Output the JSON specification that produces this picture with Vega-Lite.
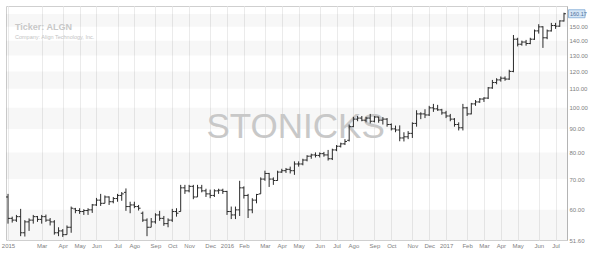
{
  "$schema": "https://vega.github.io/schema/vega-lite/v6.json",
  "width": 561,
  "height": 234,
  "autosize": "none",
  "padding": {"left": 6, "top": 6, "right": 22, "bottom": 22},
  "background": "white",
  "config": {
    "view": {"stroke": "#cfcfcf", "strokeWidth": 1},
    "font": "Liberation Sans",
    "axis": {"labelOverlap": false, "labelFlush": false}
  },
  "title": {
    "text": "Ticker: ALGN",
    "subtitle": "Company: Align Technology, Inc.",
    "anchor": "start",
    "frame": "group",
    "offset": -34,
    "dx": 9,
    "font": "Liberation Sans",
    "fontSize": 9,
    "fontWeight": "bold",
    "color": "#c8c8c8",
    "subtitleFont": "Liberation Sans",
    "subtitleFontSize": 5.5,
    "subtitleColor": "#c4c4c4",
    "subtitlePadding": 3
  },
  "datasets": {
    "bands": [
      {"lo": 51.6, "hi": 60}, {"lo": 70, "hi": 80}, {"lo": 90, "hi": 100},
      {"lo": 110, "hi": 120}, {"lo": 130, "hi": 140}, {"lo": 150, "hi": 160}
    ],
    "bars": [
      {"d":"2015-01-05","o":64,"h":65,"l":56,"c":57.5},
      {"d":"2015-01-12","o":57.5,"h":58,"l":56.3,"c":57},
      {"d":"2015-01-19","o":57,"h":58.5,"l":56.5,"c":58},
      {"d":"2015-01-26","o":58,"h":60.3,"l":52.6,"c":53.5},
      {"d":"2015-02-02","o":53.5,"h":57,"l":52.5,"c":56.5},
      {"d":"2015-02-09","o":56.5,"h":57.5,"l":54,"c":57},
      {"d":"2015-02-16","o":57,"h":58.5,"l":56,"c":58},
      {"d":"2015-02-23","o":58,"h":58.2,"l":56.5,"c":57.2},
      {"d":"2015-03-02","o":57.2,"h":58.5,"l":56,"c":58},
      {"d":"2015-03-09","o":58,"h":58.6,"l":56.5,"c":57},
      {"d":"2015-03-16","o":57,"h":57.6,"l":55.5,"c":56.5},
      {"d":"2015-03-23","o":56.5,"h":57,"l":53,"c":53.5},
      {"d":"2015-03-30","o":53.5,"h":55,"l":52.6,"c":54},
      {"d":"2015-04-06","o":54,"h":54.5,"l":52.4,"c":53},
      {"d":"2015-04-13","o":53,"h":55.5,"l":53,"c":55},
      {"d":"2015-04-20","o":55,"h":61,"l":53.5,"c":60.5},
      {"d":"2015-04-27","o":60.3,"h":60.6,"l":59,"c":59.8},
      {"d":"2015-05-04","o":59.8,"h":60.5,"l":58.8,"c":59.5},
      {"d":"2015-05-11","o":59.5,"h":60.2,"l":58.5,"c":59.8},
      {"d":"2015-05-18","o":59.8,"h":60.5,"l":58.5,"c":60},
      {"d":"2015-05-25","o":60,"h":61.8,"l":59.1,"c":61.5},
      {"d":"2015-06-01","o":61.5,"h":63.7,"l":61.2,"c":63},
      {"d":"2015-06-08","o":63,"h":65,"l":61.2,"c":62},
      {"d":"2015-06-15","o":62,"h":64.5,"l":62,"c":64},
      {"d":"2015-06-22","o":64,"h":64.2,"l":61.5,"c":62.5},
      {"d":"2015-06-29","o":62.5,"h":64,"l":62,"c":63.5},
      {"d":"2015-07-06","o":63.5,"h":65,"l":62.5,"c":64.5},
      {"d":"2015-07-13","o":64.5,"h":65.6,"l":62.8,"c":65},
      {"d":"2015-07-20","o":65.5,"h":66.8,"l":59.7,"c":61},
      {"d":"2015-07-27","o":61,"h":62.5,"l":59,"c":61.5},
      {"d":"2015-08-03","o":61.5,"h":62.5,"l":60.5,"c":61},
      {"d":"2015-08-10","o":61,"h":61.5,"l":59.8,"c":60.5},
      {"d":"2015-08-17","o":59,"h":59.5,"l":56.5,"c":57},
      {"d":"2015-08-24","o":57,"h":57.5,"l":52.6,"c":55},
      {"d":"2015-08-31","o":55,"h":57.6,"l":55,"c":56.5},
      {"d":"2015-09-07","o":56.5,"h":59,"l":56,"c":58.5},
      {"d":"2015-09-14","o":58.5,"h":59.7,"l":56.8,"c":57.5},
      {"d":"2015-09-21","o":57.5,"h":58.2,"l":55.4,"c":56},
      {"d":"2015-09-28","o":56,"h":57.5,"l":55,"c":57},
      {"d":"2015-10-05","o":57,"h":60.3,"l":56.5,"c":59.5},
      {"d":"2015-10-12","o":59.5,"h":60.5,"l":58,"c":59},
      {"d":"2015-10-19","o":59.5,"h":68,"l":59.5,"c":67},
      {"d":"2015-10-26","o":67,"h":68,"l":65,"c":66},
      {"d":"2015-11-02","o":66,"h":68,"l":65.5,"c":67.5},
      {"d":"2015-11-09","o":67.5,"h":68,"l":63.3,"c":64},
      {"d":"2015-11-16","o":64,"h":68,"l":64,"c":67},
      {"d":"2015-11-23","o":67,"h":68,"l":65.5,"c":66},
      {"d":"2015-11-30","o":66,"h":66.7,"l":64,"c":65},
      {"d":"2015-12-07","o":65,"h":66.4,"l":63.6,"c":64.5},
      {"d":"2015-12-14","o":64.5,"h":66.5,"l":64,"c":66},
      {"d":"2015-12-21","o":66,"h":66.7,"l":65,"c":66.2},
      {"d":"2015-12-28","o":66.2,"h":66.7,"l":65,"c":65.8},
      {"d":"2016-01-04","o":65.8,"h":66,"l":58.5,"c":59.5},
      {"d":"2016-01-11","o":59.5,"h":61,"l":57.3,"c":58.5},
      {"d":"2016-01-18","o":58.5,"h":61,"l":57.3,"c":60},
      {"d":"2016-01-25","o":60,"h":69.4,"l":58.2,"c":67},
      {"d":"2016-02-01","o":67,"h":67.5,"l":63.5,"c":64.5},
      {"d":"2016-02-08","o":64.5,"h":65,"l":57.6,"c":60},
      {"d":"2016-02-15","o":60,"h":63.6,"l":59,"c":63},
      {"d":"2016-02-22","o":63,"h":65,"l":62,"c":64.8},
      {"d":"2016-02-29","o":65,"h":70.6,"l":65,"c":70},
      {"d":"2016-03-07","o":70,"h":73,"l":69.4,"c":72},
      {"d":"2016-03-14","o":72,"h":72.2,"l":67.3,"c":70},
      {"d":"2016-03-21","o":70,"h":70.6,"l":68,"c":69.5},
      {"d":"2016-03-28","o":69.5,"h":73,"l":69.4,"c":72.5},
      {"d":"2016-04-04","o":72.5,"h":73.7,"l":72.2,"c":73},
      {"d":"2016-04-11","o":73,"h":74,"l":72.2,"c":73.5},
      {"d":"2016-04-18","o":73.5,"h":74.5,"l":72,"c":73},
      {"d":"2016-04-25","o":73,"h":76.5,"l":71.5,"c":75.5},
      {"d":"2016-05-02","o":75.5,"h":76.5,"l":74.5,"c":75.5},
      {"d":"2016-05-09","o":75.5,"h":77.5,"l":75,"c":77},
      {"d":"2016-05-16","o":77,"h":78.9,"l":76.5,"c":78.5},
      {"d":"2016-05-23","o":78.5,"h":79.5,"l":77.5,"c":79},
      {"d":"2016-05-30","o":79,"h":80,"l":78,"c":78.8},
      {"d":"2016-06-06","o":78.8,"h":80,"l":78,"c":79.5},
      {"d":"2016-06-13","o":79.5,"h":80.2,"l":78.3,"c":79},
      {"d":"2016-06-20","o":79,"h":81,"l":76.8,"c":77.5},
      {"d":"2016-06-27","o":77.5,"h":81.5,"l":77,"c":81},
      {"d":"2016-07-04","o":81,"h":83,"l":80.5,"c":82.5},
      {"d":"2016-07-11","o":82.5,"h":84,"l":82,"c":83.5},
      {"d":"2016-07-18","o":83.5,"h":85.5,"l":83,"c":84.5},
      {"d":"2016-07-25","o":85,"h":92,"l":84.5,"c":91},
      {"d":"2016-08-01","o":91,"h":95.6,"l":90.8,"c":94.5},
      {"d":"2016-08-08","o":94.5,"h":96,"l":93.5,"c":95},
      {"d":"2016-08-15","o":95,"h":96,"l":93.5,"c":94},
      {"d":"2016-08-22","o":94,"h":95.6,"l":93,"c":95},
      {"d":"2016-08-29","o":95,"h":97,"l":92.5,"c":93.5},
      {"d":"2016-09-05","o":93.5,"h":96,"l":93,"c":95.5},
      {"d":"2016-09-12","o":95.5,"h":95.6,"l":92.8,"c":94},
      {"d":"2016-09-19","o":94,"h":95.5,"l":92,"c":94.5},
      {"d":"2016-09-26","o":94.5,"h":95,"l":91,"c":92},
      {"d":"2016-10-03","o":92,"h":92.5,"l":89.3,"c":90},
      {"d":"2016-10-10","o":90,"h":91.5,"l":88.5,"c":89.5},
      {"d":"2016-10-17","o":89.5,"h":91.6,"l":84.6,"c":86},
      {"d":"2016-10-24","o":86,"h":88.5,"l":84.5,"c":86.5},
      {"d":"2016-10-31","o":86.5,"h":89,"l":85.5,"c":88},
      {"d":"2016-11-07","o":88,"h":93,"l":86,"c":92.5},
      {"d":"2016-11-14","o":92.5,"h":98.8,"l":91,"c":97},
      {"d":"2016-11-21","o":97,"h":97.8,"l":94.5,"c":97},
      {"d":"2016-11-28","o":97,"h":99.3,"l":95,"c":96.5},
      {"d":"2016-12-05","o":96.5,"h":101,"l":96,"c":100},
      {"d":"2016-12-12","o":100,"h":102,"l":98,"c":99.5},
      {"d":"2016-12-19","o":99.5,"h":101.5,"l":98.5,"c":99},
      {"d":"2016-12-26","o":99,"h":99.5,"l":96.6,"c":97.5},
      {"d":"2017-01-02","o":97.5,"h":98.5,"l":95,"c":96},
      {"d":"2017-01-09","o":96,"h":97,"l":93.5,"c":94.5},
      {"d":"2017-01-16","o":94.5,"h":95,"l":91,"c":92},
      {"d":"2017-01-23","o":92,"h":93,"l":89.3,"c":90.5},
      {"d":"2017-01-30","o":90.5,"h":102,"l":89.3,"c":100},
      {"d":"2017-02-06","o":100,"h":100.5,"l":96,"c":97},
      {"d":"2017-02-13","o":97,"h":102.5,"l":96.8,"c":102},
      {"d":"2017-02-20","o":102,"h":104,"l":101,"c":103},
      {"d":"2017-02-27","o":103,"h":105,"l":102.5,"c":104.5},
      {"d":"2017-03-06","o":104.5,"h":105.5,"l":103,"c":105},
      {"d":"2017-03-13","o":105,"h":111,"l":104.5,"c":110.5},
      {"d":"2017-03-20","o":110.5,"h":115,"l":110,"c":113.5},
      {"d":"2017-03-27","o":113.5,"h":116,"l":112.5,"c":115},
      {"d":"2017-04-03","o":115,"h":117,"l":114,"c":116},
      {"d":"2017-04-10","o":116,"h":117,"l":114.5,"c":115.5},
      {"d":"2017-04-17","o":115.5,"h":121,"l":115,"c":120},
      {"d":"2017-04-24","o":120,"h":144,"l":119.5,"c":141},
      {"d":"2017-05-01","o":141,"h":142,"l":136,"c":137.5},
      {"d":"2017-05-08","o":137.5,"h":140,"l":136.5,"c":139},
      {"d":"2017-05-15","o":139,"h":140.5,"l":136.5,"c":138},
      {"d":"2017-05-22","o":138,"h":142,"l":137.5,"c":141},
      {"d":"2017-05-29","o":141,"h":148,"l":140.5,"c":147},
      {"d":"2017-06-05","o":147,"h":152,"l":145,"c":150},
      {"d":"2017-06-12","o":150,"h":150.5,"l":135,"c":142},
      {"d":"2017-06-19","o":142,"h":148,"l":141,"c":147},
      {"d":"2017-06-26","o":147,"h":153,"l":146.5,"c":151},
      {"d":"2017-07-03","o":151,"h":153,"l":148.5,"c":150.5},
      {"d":"2017-07-10","o":150.5,"h":155,"l":150,"c":154.5},
      {"d":"2017-07-17","o":154.5,"h":161,"l":154,"c":160.17}
    ]
  },
  "layer": [
    {
      "data": {"name": "bands"},
      "mark": {"type": "rect", "color": "#000000", "opacity": 0.03},
      "encoding": {
        "y": {
          "field": "lo", "type": "quantitative",
          "scale": {"type": "log", "domain": [51.6, 166.5], "nice": false, "zero": false},
          "axis": {
            "title": null,
            "orient": "right",
            "values": [51.6, 60, 70, 80, 90, 100, 110, 120, 130, 140, 150],
            "tickCount": 100,
            "format": ".2f",
            "labelFont": "Liberation Sans",
            "labelFontSize": 6,
            "labelColor": "#808080",
            "labelPadding": 2,
            "labelOverlap": false,
            "labelFlush": false,
            "ticks": false,
            "domain": true,
            "domainColor": "#b4b4b4",
            "grid": false
          }
        },
        "y2": {"field": "hi"}
      }
    },
    {
      "data": {"name": "bars"},
      "transform": [{"filter": "datum.c == 160.17"}],
      "mark": {"type": "text", "text": "STONICKS", "fontSize": 35, "color": "#c8c8c8", "align": "center", "baseline": "middle", "font": "Liberation Sans"},
      "encoding": {
        "x": {
          "datum": {"year": 2016, "month": 4, "date": 27, "utc": true}, "type": "temporal",
          "scale": {"type": "utc", "domain": [{"year": 2015, "month": 1, "date": 1, "hours": 16, "utc": true}, {"year": 2017, "month": 7, "date": 22, "utc": true}], "nice": false},
          "axis": {
            "title": null,
            "orient": "bottom",
            "tickCount": 100,
            "values": [
              {"year": 2015, "month": 1, "date": 5, "utc": true},
              {"year": 2015, "month": 3, "date": 2, "utc": true},
              {"year": 2015, "month": 4, "date": 6, "utc": true},
              {"year": 2015, "month": 5, "date": 4, "utc": true},
              {"year": 2015, "month": 6, "date": 1, "utc": true},
              {"year": 2015, "month": 7, "date": 6, "utc": true},
              {"year": 2015, "month": 8, "date": 3, "utc": true},
              {"year": 2015, "month": 9, "date": 7, "utc": true},
              {"year": 2015, "month": 10, "date": 5, "utc": true},
              {"year": 2015, "month": 11, "date": 2, "utc": true},
              {"year": 2015, "month": 12, "date": 7, "utc": true},
              {"year": 2016, "month": 1, "date": 4, "utc": true},
              {"year": 2016, "month": 2, "date": 1, "utc": true},
              {"year": 2016, "month": 3, "date": 7, "utc": true},
              {"year": 2016, "month": 4, "date": 4, "utc": true},
              {"year": 2016, "month": 5, "date": 2, "utc": true},
              {"year": 2016, "month": 6, "date": 6, "utc": true},
              {"year": 2016, "month": 7, "date": 4, "utc": true},
              {"year": 2016, "month": 8, "date": 1, "utc": true},
              {"year": 2016, "month": 9, "date": 5, "utc": true},
              {"year": 2016, "month": 10, "date": 3, "utc": true},
              {"year": 2016, "month": 11, "date": 7, "utc": true},
              {"year": 2016, "month": 12, "date": 5, "utc": true},
              {"year": 2017, "month": 1, "date": 2, "utc": true},
              {"year": 2017, "month": 2, "date": 6, "utc": true},
              {"year": 2017, "month": 3, "date": 6, "utc": true},
              {"year": 2017, "month": 4, "date": 3, "utc": true},
              {"year": 2017, "month": 5, "date": 1, "utc": true},
              {"year": 2017, "month": 6, "date": 5, "utc": true},
              {"year": 2017, "month": 7, "date": 3, "utc": true}
            ],
            "labelExpr": "utcFormat(datum.value,'%m')=='01' ? utcFormat(datum.value,'%Y') : (utcFormat(datum.value,'%m')=='08' ? 'Ago' : utcFormat(datum.value,'%b'))",
            "labelFont": "Liberation Sans",
            "labelFontSize": 6,
            "labelColor": "#808080",
            "labelPadding": 2,
            "labelOverlap": false,
            "labelFlush": false,
            "ticks": false,
            "domain": false,
            "grid": true,
            "gridColor": "#ebebeb",
            "gridWidth": 1
          }
        },
        "y": {"datum": 91, "type": "quantitative"}
      }
    },
    {
      "data": {"name": "bars"},
      "mark": {"type": "rule", "color": "#2a2a2a", "strokeWidth": 1},
      "encoding": {
        "x": {"field": "d", "type": "temporal"},
        "y": {"field": "l", "type": "quantitative"},
        "y2": {"field": "h"}
      }
    },
    {
      "data": {"name": "bars"},
      "mark": {"type": "rule", "color": "#2a2a2a", "strokeWidth": 1, "xOffset": -2, "x2Offset": 0},
      "encoding": {
        "x": {"field": "d", "type": "temporal"},
        "x2": {"field": "d"},
        "y": {"field": "o", "type": "quantitative"}
      }
    },
    {
      "data": {"name": "bars"},
      "mark": {"type": "rule", "color": "#2a2a2a", "strokeWidth": 1, "xOffset": 0, "x2Offset": 2},
      "encoding": {
        "x": {"field": "d", "type": "temporal"},
        "x2": {"field": "d"},
        "y": {"field": "c", "type": "quantitative"}
      }
    },
    {
      "data": {"name": "bars"},
      "transform": [{"filter": "datum.c == 160.17"}],
      "mark": {"type": "rect", "fill": "#d6e6f5", "stroke": "#7fa9d6", "strokeWidth": 0.8, "xOffset": 1.5, "x2Offset": 18, "yOffset": -4, "y2Offset": 4, "clip": false},
      "encoding": {
        "x": {"datum": {"year": 2017, "month": 7, "date": 22, "utc": true}, "type": "temporal"},
        "x2": {"datum": {"year": 2017, "month": 7, "date": 22, "utc": true}},
        "y": {"field": "c", "type": "quantitative"},
        "y2": {"field": "c"}
      }
    },
    {
      "data": {"name": "bars"},
      "transform": [{"filter": "datum.c == 160.17"}],
      "mark": {"type": "text", "align": "left", "baseline": "middle", "dx": 3, "fontSize": 5.5, "color": "#4b6f9c", "font": "Liberation Sans"},
      "encoding": {
        "x": {"datum": {"year": 2017, "month": 7, "date": 22, "utc": true}, "type": "temporal"},
        "y": {"field": "c", "type": "quantitative"},
        "text": {"field": "c", "type": "quantitative", "format": ".2f"}
      }
    }
  ]
}
